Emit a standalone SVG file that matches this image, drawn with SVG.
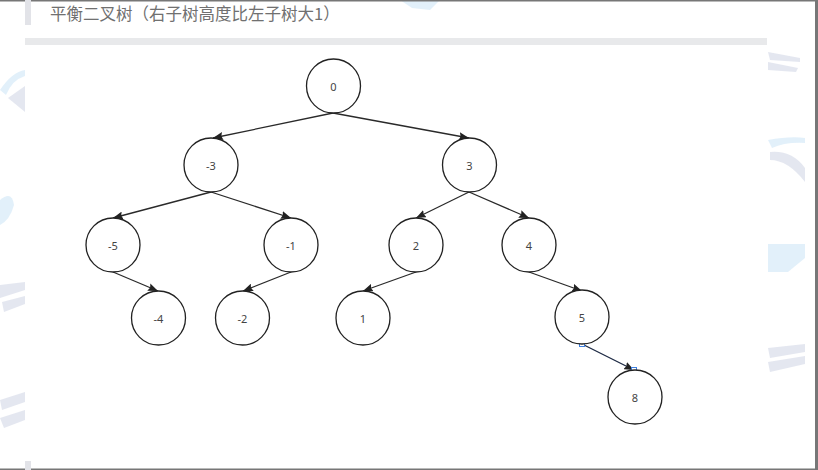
<svg xmlns="http://www.w3.org/2000/svg" width="818" height="470" viewBox="0 0 818 470">
  <defs>
    <marker id="arr" markerWidth="10" markerHeight="8" refX="10" refY="4" orient="auto" markerUnits="userSpaceOnUse">
      <path d="M0,0 L10,4 L0,8 L1.5,4 Z" fill="#222"/>
    </marker>
  </defs>
  <style>
    .node ellipse { fill: #ffffff; stroke: #222222; stroke-width: 1.3; }
    .node text { font-family: "Noto Sans", "Liberation Sans", sans-serif; font-size: 11px; fill: #444444; text-anchor: middle; dominant-baseline: central; }
    .edge { stroke: #2a2a2a; stroke-width: 1.3; fill: none; marker-end: url(#arr); }
    .wm1 { fill: #d6eaf8; opacity: 0.7; }
    .wm2 { fill: #d9dde9; opacity: 0.7; }
    .handle { fill: #ffffff; stroke: #3d7fe0; stroke-width: 1; }
  </style>

  <rect x="0" y="0" width="818" height="470" fill="#ffffff"/>

  <!-- faint watermark fragments in margins -->
  <g id="watermark">
    <path class="wm1" d="M0,90 Q12,72 25,70 L25,76 Q12,80 6,95 Z"/>
    <path class="wm2" d="M8,98 L25,86 L25,112 Z"/>
    <path class="wm1" d="M0,200 Q12,190 14,205 Q10,220 0,225 Z"/>
    <path class="wm2" d="M0,285 L25,282 L25,290 L0,298 Z M2,302 L25,296 L25,304 L4,312 Z"/>
    <path class="wm2" d="M0,400 L25,392 L25,402 L2,410 Z M0,418 L25,410 L25,420 L4,428 Z"/>
    <path class="wm1" d="M768,140 Q790,136 805,138 L805,143 Q785,142 772,148 Z"/>
    <path class="wm2" d="M770,152 Q792,150 805,168 L805,182 Q788,160 770,160 Z"/>
    <path class="wm1" d="M768,244 L805,244 L805,258 L788,272 L768,272 Z" opacity="0.5"/>
    <path class="wm2" d="M768,348 L805,344 L805,352 L770,358 Z M768,362 L805,356 L805,364 L770,372 Z"/>
    <path class="wm2" d="M768,52 L800,58 L800,62 L770,60 Z M768,62 L798,68 L796,72 L768,70 Z"/>
    <path class="wm1" d="M400,0 L440,0 L430,10 L412,8 Z" opacity="0.5"/>
  </g>

  <!-- page frame -->
  <rect x="0" y="0" width="818" height="1.5" fill="#777777"/>
  <rect x="815" y="0" width="3" height="470" fill="#777777"/>
  <rect x="0" y="468.5" width="818" height="1.5" fill="#777777"/>

  <!-- title -->
  <rect x="25" y="0" width="6" height="25" fill="#e2e3e8"/>
  <text x="50" y="20" font-family="'Noto Sans CJK SC', 'Noto Sans', sans-serif" font-size="16.5" fill="#707070">平衡二叉树（右子树高度比左子树大1）</text>
  <rect x="25" y="38" width="742" height="7" fill="#e8e9eb"/>
  <rect x="25" y="461" width="6" height="9" fill="#e2e3e8"/>

  <!-- connectors -->
  <g id="connectors">
    <line class="edge" x1="333" y1="113" x2="213" y2="138"/>
    <line class="edge" x1="333" y1="113" x2="469" y2="138"/>
    <line class="edge" x1="211" y1="192" x2="113" y2="218"/>
    <line class="edge" x1="211" y1="192" x2="291" y2="218"/>
    <line class="edge" x1="469" y1="192" x2="416" y2="218"/>
    <line class="edge" x1="469" y1="192" x2="529" y2="218"/>
    <line class="edge" x1="113" y1="272" x2="158" y2="291"/>
    <line class="edge" x1="291" y1="272" x2="243" y2="291"/>
    <line class="edge" x1="416" y1="272" x2="363" y2="291"/>
    <line class="edge" x1="529" y1="272" x2="582" y2="291"/>
    <line class="edge" x1="582" y1="344" x2="634" y2="370" style="stroke:#1e2b45"/>
    <rect class="handle" x="579.5" y="341.5" width="5" height="5"/>
    <rect class="handle" x="631.5" y="367.5" width="5" height="5"/>
  </g>

  <!-- nodes -->
  <g id="n0" class="node"><ellipse cx="333.5" cy="86" rx="27" ry="27"/><text x="333.5" y="86">0</text></g>
  <g id="nm3" class="node"><ellipse cx="211" cy="165" rx="27" ry="27"/><text x="211" y="165">-3</text></g>
  <g id="n3" class="node"><ellipse cx="469.5" cy="165" rx="27" ry="27"/><text x="469.5" y="165">3</text></g>
  <g id="nm5" class="node"><ellipse cx="113" cy="245" rx="27" ry="27"/><text x="113" y="245">-5</text></g>
  <g id="nm1" class="node"><ellipse cx="291" cy="245" rx="27" ry="27"/><text x="291" y="245">-1</text></g>
  <g id="n2" class="node"><ellipse cx="416" cy="245" rx="27" ry="27"/><text x="416" y="245">2</text></g>
  <g id="n4" class="node"><ellipse cx="529" cy="245" rx="27" ry="27"/><text x="529" y="245">4</text></g>
  <g id="nm4" class="node"><ellipse cx="158.5" cy="318" rx="27" ry="27"/><text x="158.5" y="318">-4</text></g>
  <g id="nm2" class="node"><ellipse cx="242.5" cy="318" rx="27" ry="27"/><text x="242.5" y="318">-2</text></g>
  <g id="n1" class="node"><ellipse cx="363" cy="318" rx="27" ry="27"/><text x="363" y="318">1</text></g>
  <g id="n5" class="node"><ellipse cx="582" cy="317" rx="27" ry="27"/><text x="582" y="317">5</text></g>
  <g id="n8" class="node"><ellipse cx="635" cy="397" rx="27" ry="27"/><text x="635" y="397">8</text></g>
</svg>
